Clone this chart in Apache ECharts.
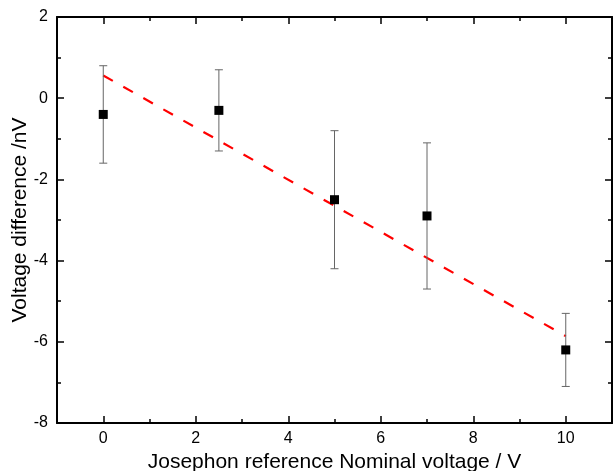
<!DOCTYPE html>
<html>
<head>
<meta charset="utf-8">
<script src="https://cdn.jsdelivr.net/npm/echarts@6/dist/echarts.min.js"></script>
<style>
html,body{margin:0;padding:0;background:#fff;}
#chart{width:613px;height:471px;}
</style>
</head>
<body>
<div id="chart"></div>
<script>
const xValues = [0, 2.5, 5, 7, 10];
const yValues = [-0.4, -0.3, -2.5, -2.9, -6.2];
const errLow = [-1.6, -1.3, -4.2, -4.7, -7.1];
const errHigh = [0.8, 0.7, -0.8, -1.1, -5.3];
const fitX = [0, 10];
const fitY = [0.56, -5.86];
const xMajorTicks = [0, 2, 4, 6, 8, 10];
const xMinorTicks = [-1, 1, 3, 5, 7, 9, 11];
const yTickLabels = [-8, -6, -4, -2, 0, 2];

const font = 'Liberation Sans, Arial, sans-serif';
const frame = { show: true, onZero: false, lineStyle: { color: '#000', width: 2 } };
const noLine = { show: false, onZero: false };

const chart = echarts.init(document.getElementById('chart'), null, { renderer: 'canvas' });

const xCommon = { type: 'value', min: -1, max: 11, gridIndex: 0, splitLine: { show: false } };
const yCommon = { type: 'value', min: -8, max: 2, interval: 2, splitLine: { show: false } };
const tickStyle = { color: '#000', width: 1.5 };

chart.setOption({
  animation: false,
  backgroundColor: '#fff',
  grid: { left: 57, right: 1, top: 17, bottom: 48, containLabel: false, outerBoundsMode: 'none' },
  xAxis: [
    Object.assign({}, xCommon, {
      position: 'bottom',
      axisLine: frame,
      axisTick: { show: true, inside: true, length: 7, customValues: xMajorTicks, lineStyle: tickStyle },
      axisLabel: { show: true, customValues: xMajorTicks, color: '#000', fontSize: 16, fontFamily: font, margin: 8 },
      name: 'Josephon reference Nominal voltage / V',
      nameLocation: 'middle',
      nameGap: 29,
      nameMoveOverlap: false,
      nameTextStyle: { color: '#000', fontSize: 21, fontFamily: font }
    }),
    Object.assign({}, xCommon, {
      position: 'bottom',
      axisLine: noLine,
      axisTick: { show: true, inside: true, length: 4, customValues: xMinorTicks, lineStyle: tickStyle },
      axisLabel: { show: false }
    }),
    Object.assign({}, xCommon, {
      position: 'top',
      axisLine: frame,
      axisTick: { show: true, inside: true, length: 7, customValues: xMajorTicks, lineStyle: tickStyle },
      axisLabel: { show: false }
    }),
    Object.assign({}, xCommon, {
      position: 'top',
      axisLine: noLine,
      axisTick: { show: true, inside: true, length: 4, customValues: xMinorTicks, lineStyle: tickStyle },
      axisLabel: { show: false }
    })
  ],
  yAxis: [
    Object.assign({}, yCommon, {
      position: 'left',
      axisLine: frame,
      axisTick: { show: true, inside: true, length: 7, lineStyle: tickStyle },
      minorTick: { show: true, splitNumber: 2, length: 4, lineStyle: tickStyle },
      axisLabel: { show: true, customValues: yTickLabels, color: '#000', fontSize: 16, fontFamily: font, margin: 9 },
      name: 'Voltage difference /nV',
      nameLocation: 'middle',
      nameGap: 26,
      nameMoveOverlap: false,
      nameTextStyle: { color: '#000', fontSize: 21, fontFamily: font }
    }),
    Object.assign({}, yCommon, {
      position: 'right',
      axisLine: frame,
      axisTick: { show: true, inside: true, length: 7, lineStyle: tickStyle },
      minorTick: { show: true, splitNumber: 2, length: 4, lineStyle: tickStyle },
      axisLabel: { show: false }
    })
  ],
  series: [
    {
      type: 'line',
      xAxisIndex: 0, yAxisIndex: 0,
      data: fitX.map((x, i) => [x, fitY[i]]),
      showSymbol: false,
      symbol: 'none',
      lineStyle: { color: '#ff0000', width: 2.2, type: [11, 12] },
      z: 2
    },
    {
      type: 'custom',
      xAxisIndex: 0, yAxisIndex: 0,
      data: xValues.map((x, i) => [x, errLow[i], errHigh[i]]),
      encode: { x: 0, y: [1, 2] },
      renderItem: function (params, api) {
        const x = api.value(0);
        const top = api.coord([x, api.value(2)]);
        const bot = api.coord([x, api.value(1)]);
        const hw = 4;
        const st = { stroke: '#666', lineWidth: 1 };
        return {
          type: 'group',
          children: [
            { type: 'line', shape: { x1: top[0], y1: top[1], x2: bot[0], y2: bot[1] }, style: st },
            { type: 'line', shape: { x1: top[0] - hw, y1: top[1], x2: top[0] + hw, y2: top[1] }, style: st },
            { type: 'line', shape: { x1: bot[0] - hw, y1: bot[1], x2: bot[0] + hw, y2: bot[1] }, style: st }
          ]
        };
      },
      z: 3
    },
    {
      type: 'scatter',
      xAxisIndex: 0, yAxisIndex: 0,
      data: xValues.map((x, i) => [x, yValues[i]]),
      symbol: 'rect',
      symbolSize: 9,
      itemStyle: { color: '#000', opacity: 1 },
      emphasis: { disabled: true },
      z: 4
    }
  ]
});
</script>
</body>
</html>
